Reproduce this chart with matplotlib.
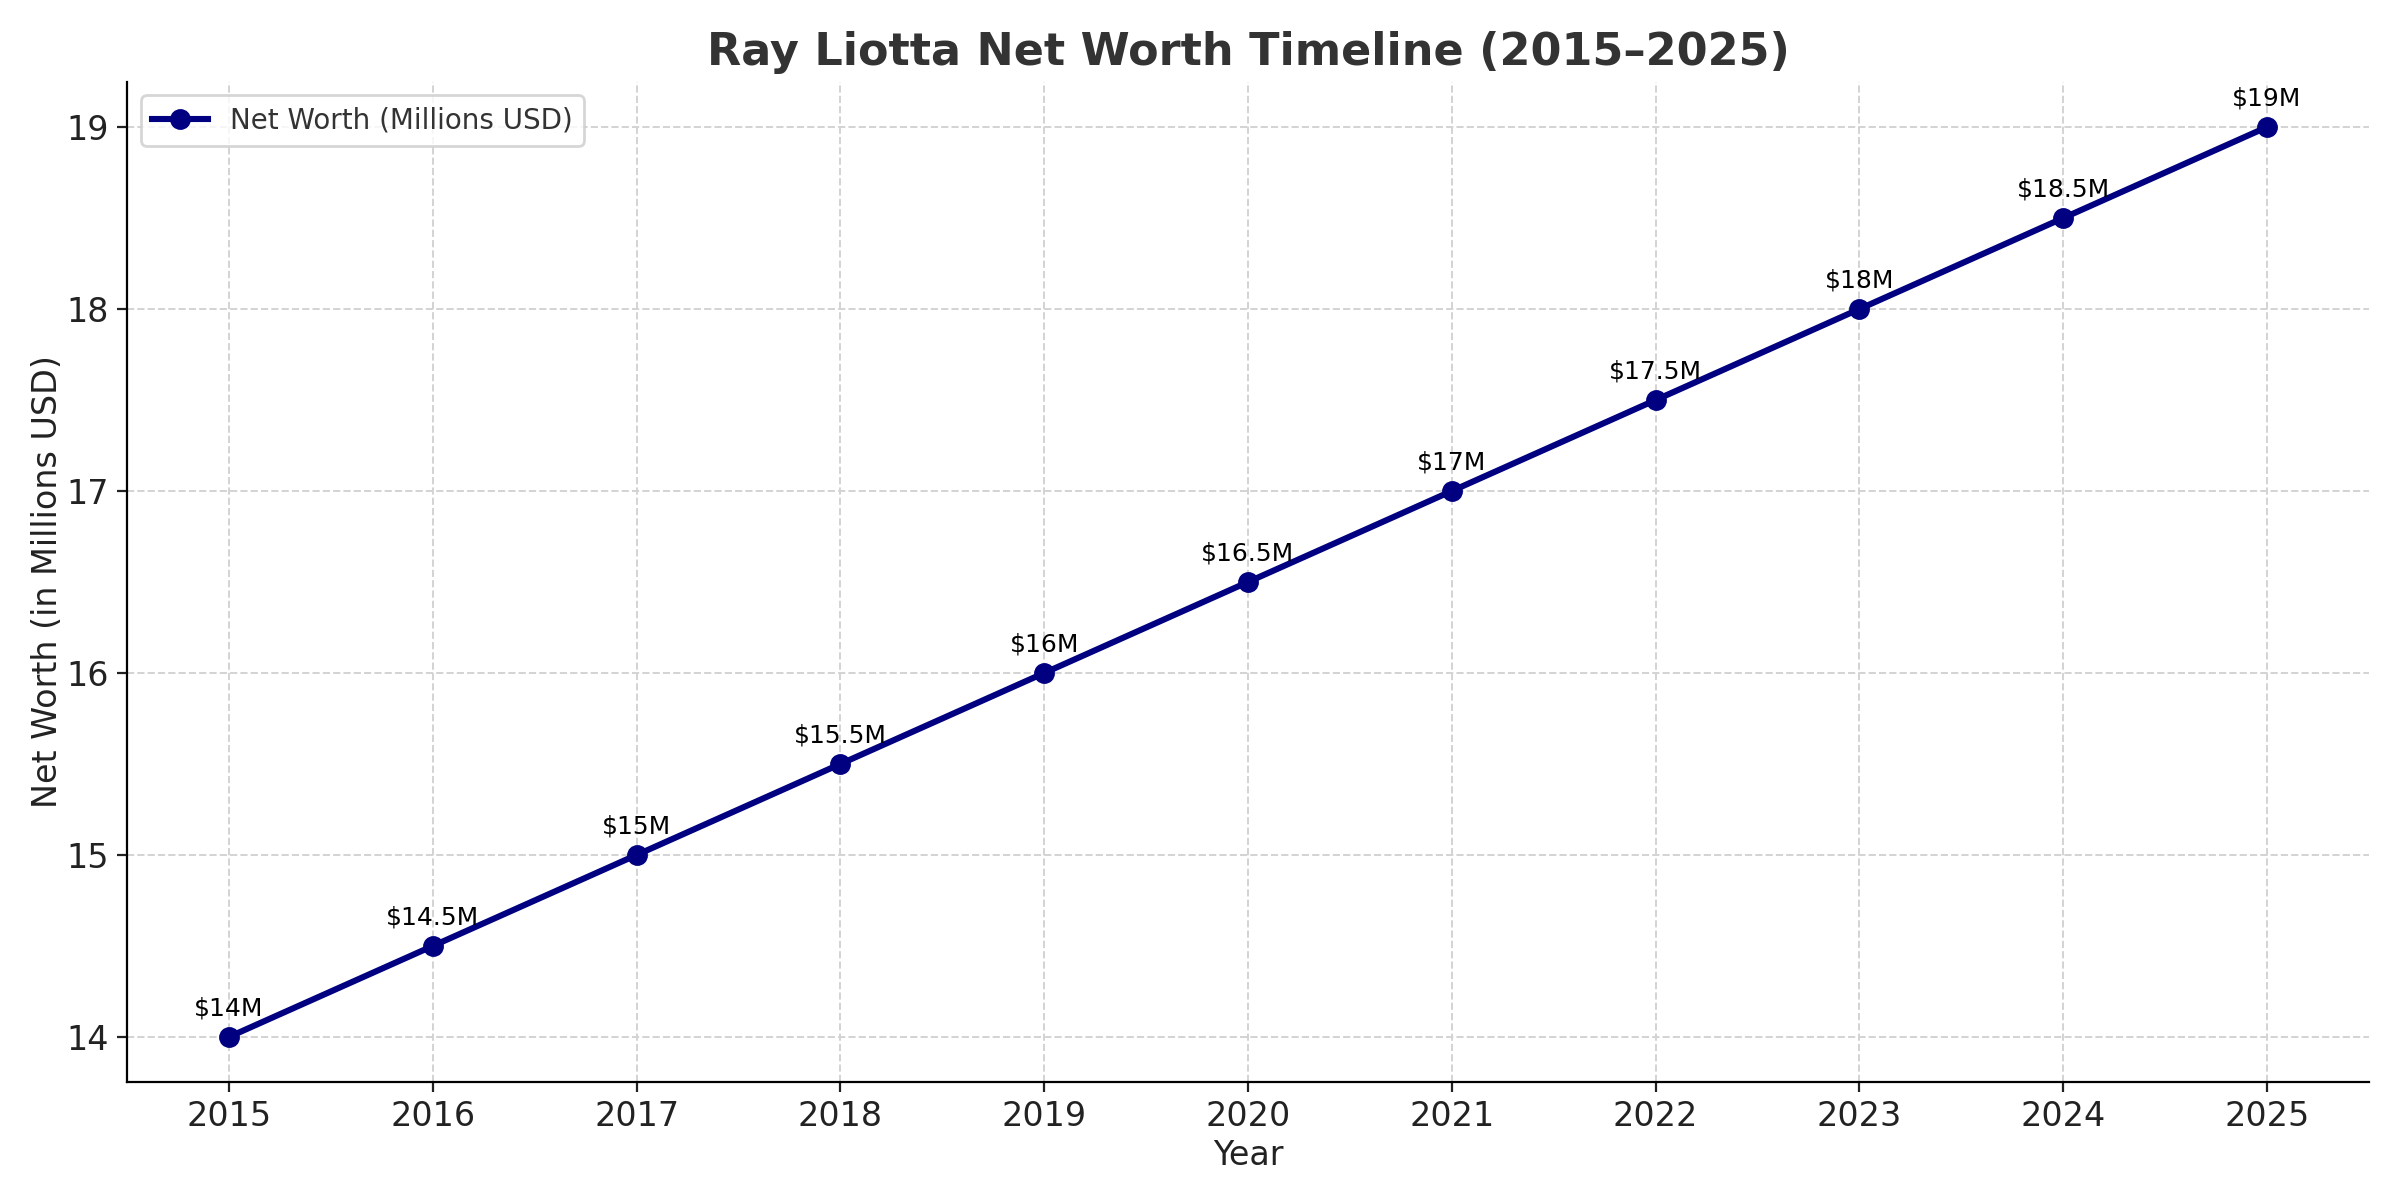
import matplotlib
matplotlib.use("Agg")
import matplotlib.pyplot as plt

years = [2015, 2016, 2017, 2018, 2019, 2020, 2021, 2022, 2023, 2024, 2025]
net_worth = [14, 14.5, 15, 15.5, 16, 16.5, 17, 17.5, 18, 18.5, 19]
labels = ["$14M", "$14.5M", "$15M", "$15.5M", "$16M", "$16.5M",
          "$17M", "$17.5M", "$18M", "$18.5M", "$19M"]

fig, ax = plt.subplots(figsize=(12, 6), dpi=200)
ax.plot(years, net_worth, marker='o', color='navy', linewidth=2.2,
        markersize=6.5, label='Net Worth (Millions USD)')

for x, y, t in zip(years, net_worth, labels):
    ax.annotate(t, (x, y), xytext=(0, 6), textcoords='offset points',
                ha='center', va='bottom', fontsize=9, color='black')

ax.set_title('Ray Liotta Net Worth Timeline (2015\u20132025)', fontsize=16,
             fontweight='bold', color='#333333')
ax.set_xlabel('Year', fontsize=12, color='#222222', labelpad=2)
ax.set_ylabel('Net Worth (in Millions USD)', fontsize=12, color='#222222', labelpad=1)
ax.set_xticks(years)
ax.tick_params(labelsize=12, colors='#222222', pad=3)
ax.grid(True, linestyle='--', color='#d3d3d3', linewidth=0.7)
ax.spines['top'].set_visible(False)
ax.spines['right'].set_visible(False)
ax.legend(loc='upper left', fontsize=10, labelcolor='#333333')

fig.subplots_adjust(left=0.053, right=0.987, top=0.932, bottom=0.098)
plt.savefig('out.png', dpi=200)
